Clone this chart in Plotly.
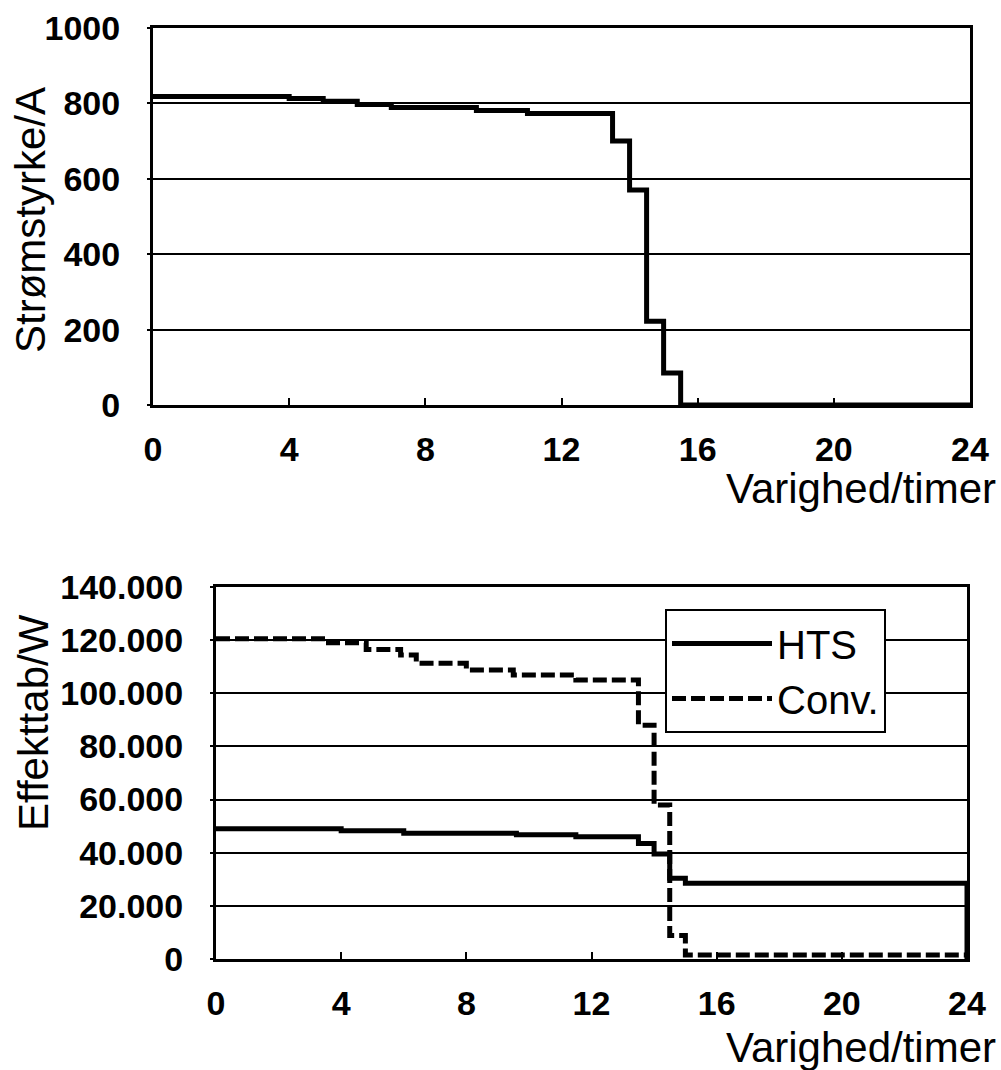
import plotly.graph_objects as go

# ---- data ----
hours_current = [0, 4, 5, 6, 7, 9.5, 11, 13.5, 14, 14.5, 15, 15.5, 24]
current_A = [818, 813, 806, 797, 789, 781, 773, 700, 570, 222, 85, 0, 0]

hours_hts = [0, 4, 6, 9.6, 11.5, 13.5, 14, 14.5, 15, 24, 24]
hts_W = [49000, 48300, 47300, 46800, 46000, 43500, 39500, 30400, 28500, 28500, 0]

hours_conv = [0, 3.5, 4.8, 5.9, 6.4, 8, 9.5, 11.5, 13.5, 14, 14.5, 15, 24]
conv_W = [120500, 119000, 116500, 114400, 111300, 108800, 106900, 105000, 88000, 58000, 8800, 1500, 1500]

x_ticks = [0, 4, 8, 12, 16, 20, 24]
top_y_ticks = [0, 200, 400, 600, 800, 1000]
bot_y_ticks = [0, 20000, 40000, 60000, 80000, 100000, 120000, 140000]
bot_y_ticktext = ["0", "20.000", "40.000", "60.000", "80.000", "100.000", "120.000", "140.000"]

FONT = "Liberation Sans, Arial, sans-serif"
W, H = 1001, 1070

fig = go.Figure()
fig.add_trace(go.Scatter(x=hours_current, y=current_A, mode="lines", line=dict(color="black", width=5, shape="hv"),
                         showlegend=False, xaxis="x", yaxis="y"))
fig.add_trace(go.Scatter(x=hours_hts, y=hts_W, mode="lines", name="HTS",
                         line=dict(color="black", width=5, shape="hv"), xaxis="x2", yaxis="y2"))
fig.add_trace(go.Scatter(x=hours_conv, y=conv_W, mode="lines", name="Conv.",
                         line=dict(color="black", width=5, shape="hv", dash="14px,5px"), xaxis="x2", yaxis="y2"))

tickfont = dict(family=FONT, size=34, color="black", weight="bold")
common_x = dict(range=[0, 24], tickvals=x_ticks, ticks="inside", ticklen=7, tickwidth=2, tickcolor="black",
                showline=True, linecolor="black", linewidth=3, mirror=True, showgrid=False, zeroline=False,
                tickfont=tickfont, ticklabelstandoff=12, automargin=False)
common_y = dict(ticks="outside", ticklen=3, tickwidth=2, tickcolor="black",
                showline=True, linecolor="black", linewidth=3, mirror=True, showgrid=True,
                gridcolor="black", gridwidth=2, zeroline=False, tickfont=tickfont, ticklabelstandoff=20,
                automargin=False)

fig.update_layout(
    width=W, height=H,
    margin=dict(l=0, r=0, t=0, b=0, autoexpand=False),
    paper_bgcolor="white", plot_bgcolor="white",
    xaxis=dict(domain=[153 / W, 970 / W], anchor="y", **common_x),
    yaxis=dict(domain=[1 - 405 / H, 1 - 28 / H], anchor="x", range=[0, 1000], tickvals=top_y_ticks, **common_y),
    xaxis2=dict(domain=[216 / W, 967 / W], anchor="y2", **common_x),
    yaxis2=dict(domain=[1 - 959 / H, 1 - 587 / H], anchor="x2", range=[0, 140000], tickvals=bot_y_ticks,
                ticktext=bot_y_ticktext, **common_y),
    legend=dict(x=665 / W, y=1 - 609 / H, xanchor="left", yanchor="top", bgcolor="white",
                bordercolor="black", borderwidth=2, font=dict(family=FONT, size=40, color="black"),
                itemwidth=100, tracegroupgap=0),
    showlegend=True,
)

ann = dict(font=dict(family=FONT, size=42, color="black"), showarrow=False, xref="paper", yref="paper")
fig.add_annotation(text="Strømstyrke/A", x=30 / W, y=1 - 220 / H, textangle=-90, xanchor="center", yanchor="middle", **ann)
fig.add_annotation(text="Varighed/timer", x=998 / W, y=1 - 489 / H, xanchor="right", yanchor="middle", **ann)
fig.add_annotation(text="Effekttab/W", x=33 / W, y=1 - 723 / H, textangle=-90, xanchor="center", yanchor="middle", **ann)
fig.add_annotation(text="Varighed/timer", x=998 / W, y=1 - 1047 / H, xanchor="right", yanchor="middle", **ann)

fig.write_html("out.html", config={"displayModeBar": False},
               post_script="document.body.style.margin='0';document.body.style.overflow='hidden';")
